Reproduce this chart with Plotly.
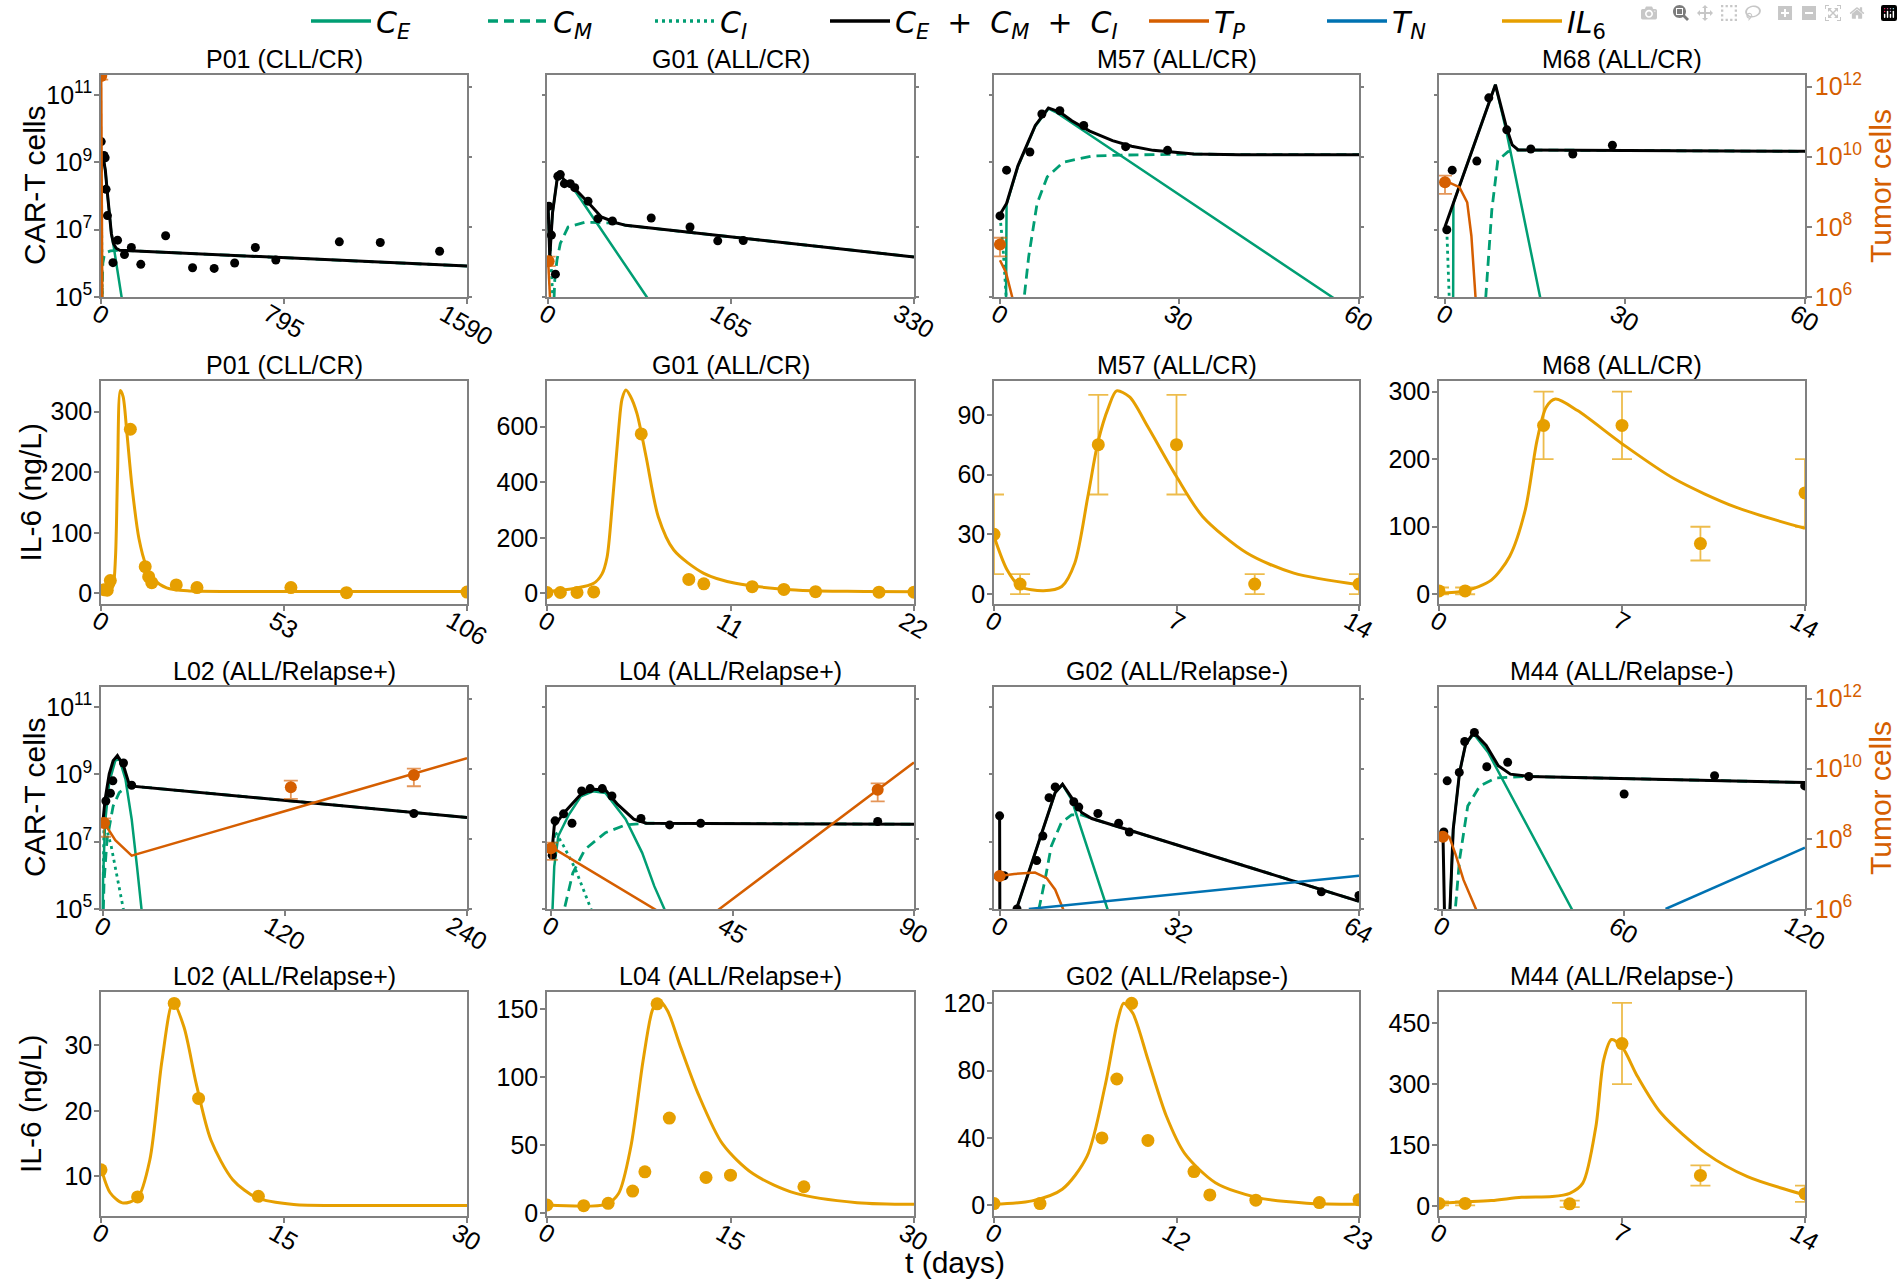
import plotly.graph_objects as go

W, H = 1903, 1279
FONT = "Liberation Sans"
LEGEND_FONT = "DejaVu Sans"
GREEN, BLACK, ORANGE, BLUE, GOLD = "#009E73", "#000000", "#D55E00", "#0072B2", "#E69F00"
SPINE = "#808080"

# ---------------- CAR-T / tumour panels (values as log10) ----------------
P01_DATA_T = [0, 12, 17, 21, 27, 51, 71, 101, 131, 172, 280, 397, 491, 580, 670, 759, 1035, 1213, 1471]
P01_DATA_LOG = [9.62, 9.21, 9.14, 8.2, 7.42, 6.02, 6.69, 6.26, 6.47, 5.97, 6.82, 5.87, 5.85, 6.01, 6.47, 6.1, 6.64, 6.62, 6.36]
P01_TOT_T = [0, 4, 10, 18, 27, 36, 44, 53, 65, 80, 1590]
P01_TOT_LOG = [8.7, 9.25, 9.1, 8.76, 8.07, 7.48, 6.89, 6.59, 6.45, 6.39, 5.92]
P01_CE_T = [0, 4, 10, 18, 27, 36, 44, 53, 89, 100]
P01_CE_LOG = [8.7, 9.25, 9.1, 8.76, 8.07, 7.48, 6.89, 6.55, 5.0, 4.5]
P01_CM_T = [2, 4, 7, 12, 20, 40, 80, 1590]
P01_CM_LOG = [4.5, 5.6, 6.0, 6.2, 6.32, 6.37, 6.39, 5.92]
P01_CI_T = [0, 2, 5]
P01_CI_LOG = [8.5, 6.5, 4.5]
P01_TP_T = [0, 2, 5]
P01_TP_LOG = [12.3, 9.0, 5.5]
P01_TUM_T, P01_TUM_LOG, P01_TUM_HI, P01_TUM_LO = [0], [12.3], [12.38], [12.2]

G01_DATA_T = [0.7, 3, 6.6, 8.8, 11, 14.7, 20, 24, 36, 45, 58, 93, 128, 153, 176]
G01_DATA_LOG = [7.7, 6.84, 5.68, 8.59, 8.64, 8.37, 8.37, 8.25, 7.85, 7.33, 7.26, 7.35, 7.08, 6.67, 6.68]
G01_TOT_T = [0, 1.5, 4, 9, 14, 24, 37, 48, 62, 70, 330]
G01_TOT_LOG = [7.7, 6.2, 7.5, 8.71, 8.5, 8.22, 7.78, 7.38, 7.2, 7.13, 6.19]
G01_CE_T = [0, 1.5, 4, 9, 14, 23, 89, 100]
G01_CE_LOG = [7.7, 6.2, 7.5, 8.71, 8.48, 8.22, 5.0, 4.45]
G01_CM_T = [4.8, 6, 8, 11, 18, 33, 62, 70, 330]
G01_CM_LOG = [4.5, 5.5, 6.1, 6.59, 7.08, 7.22, 7.2, 7.13, 6.19]
G01_CI_T = [0, 2, 4.5]
G01_CI_LOG = [7.7, 6.3, 4.8]
G01_TP_T = [0, 1, 2.5]
G01_TP_LOG = [7.05, 6.5, 5.5]
G01_TUM_T, G01_TUM_LOG, G01_TUM_HI, G01_TUM_LO = [0.5], [7.02], [7.15], [6.88]

M57_DATA_T = [0, 1.1, 5, 7, 10, 14, 21, 28]
M57_DATA_LOG = [7.41, 8.77, 9.31, 10.44, 10.54, 10.1, 9.47, 9.36]
M57_TOT_T = [0, 1.1, 3, 5.9, 8.1, 10, 12, 15, 18.8, 22, 25.6, 32.4, 40, 60]
M57_TOT_LOG = [7.45, 7.78, 8.9, 10.1, 10.62, 10.5, 10.24, 9.93, 9.65, 9.48, 9.36, 9.25, 9.23, 9.23]
M57_CE_T = [1.0, 1.1, 3, 5.9, 8.1, 9.3, 55.5, 60]
M57_CE_LOG = [4.5, 7.75, 8.88, 10.08, 10.6, 10.5, 5.0, 4.46]
M57_CM_T = [3.8, 4.8, 6.2, 7.9, 10.6, 15.4, 20.8, 32.4, 40, 60]
M57_CM_LOG = [4.6, 6.2, 7.78, 8.57, 9.01, 9.19, 9.22, 9.25, 9.23, 9.23]
M57_CI_T = [0, 0.5, 1.1]
M57_CI_LOG = [7.41, 6.5, 4.8]
M57_TP_T = [0, 1, 2.1, 2.6]
M57_TP_LOG = [7.05, 6.7, 5.96, 5.5]
M57_TUM_T, M57_TUM_LOG, M57_TUM_HI, M57_TUM_LO = [0], [7.5], [7.69], [7.16]

M68_DATA_T = [0.3, 1.2, 5.3, 7.3, 10.3, 14.3, 21.3, 27.9]
M68_DATA_LOG = [7.0, 8.77, 9.04, 10.92, 9.97, 9.4, 9.25, 9.51]
M68_TOT_T = [0, 8.4, 10.3, 11.2, 12.2, 60]
M68_TOT_LOG = [7.09, 11.31, 10.0, 9.52, 9.37, 9.33]
M68_CE_T = [1.35, 1.4, 8.4, 10.2, 15.85, 17]
M68_CE_LOG = [4.5, 7.79, 11.31, 9.95, 5.0, 4.0]
M68_CM_T = [6.6, 6.8, 7.8, 8.8, 10.5, 12.2, 60]
M68_CM_LOG = [4.5, 5.0, 7.58, 9.06, 9.32, 9.37, 9.33]
M68_CI_T = [0.3, 0.5, 0.8]
M68_CI_LOG = [7.0, 6.0, 4.5]
M68_TP_T = [0, 2.4, 3.7, 4.4, 5.1, 5.4]
M68_TP_LOG = [9.32, 9.13, 8.7, 7.74, 5.96, 5.0]
M68_TUM_T, M68_TUM_LOG, M68_TUM_HI, M68_TUM_LO = [0], [9.27], [9.46], [8.94]

L02_DATA_T = [2.2, 5.2, 6.8, 13.8, 19.2, 205]
L02_DATA_LOG = [8.21, 8.44, 8.81, 9.34, 8.68, 7.84]
L02_TOT_T = [0, 1.7, 4.4, 7, 9.8, 13.8, 17.9, 240]
L02_TOT_LOG = [7.47, 8.26, 9.01, 9.41, 9.56, 9.26, 8.66, 7.72]
L02_CE_T = [0.1, 0.35, 1.7, 4.4, 8.4, 11.1, 15.1, 19.2, 22.7, 25.9, 28]
L02_CE_LOG = [4.5, 5.88, 7.57, 8.76, 9.41, 9.46, 8.86, 7.67, 6.27, 5.0, 4.0]
L02_CM_T = [0.3, 1.0, 3, 7, 11, 15, 17.9, 240]
L02_CM_LOG = [4.5, 5.8, 7.07, 8.06, 8.46, 8.6, 8.66, 7.72]
L02_CI_T = [0.5, 1, 5.7, 9.8, 13.8, 15]
L02_CI_LOG = [6.0, 7.67, 6.87, 5.88, 5.0, 4.7]
L02_TP_T = [0, 8.4, 19.2, 240]
L02_TP_LOG = [8.53, 7.96, 7.52, 10.3]
L02_TUM_T, L02_TUM_LOG = [1, 124, 205], [8.45, 9.47, 9.82]
L02_TUM_HI, L02_TUM_LO = [8.58, 9.66, 10.0], [8.06, 9.14, 9.5]

L04_DATA_T = [0, 0.3, 1, 3.1, 5.2, 7.6, 9.7, 12.7, 15.1, 22.3, 29.4, 37.1, 81]
L04_DATA_LOG = [6.77, 6.6, 7.62, 7.83, 7.55, 8.51, 8.58, 8.58, 8.36, 7.69, 7.5, 7.55, 7.6]
L04_TOT_T = [0, 0.3, 0.8, 3.3, 7.4, 10.4, 13.5, 16.5, 20.5, 23.6, 90]
L04_TOT_LOG = [6.67, 6.8, 7.47, 7.87, 8.41, 8.56, 8.54, 8.11, 7.67, 7.55, 7.52]
L04_CE_T = [0.2, 0.8, 1.8, 4.4, 7.4, 10.4, 13.5, 18.5, 22.6, 25.6, 28.1, 30]
L04_CE_LOG = [4.5, 6.27, 7.17, 7.8, 8.35, 8.5, 8.45, 7.67, 6.67, 5.68, 5.0, 4.3]
L04_CM_T = [3.0, 3.3, 5.4, 8.4, 13.5, 18.5, 23.6, 90]
L04_CM_LOG = [4.6, 5.0, 6.07, 6.77, 7.27, 7.5, 7.55, 7.52]
L04_CI_T = [0.5, 1, 3, 6, 9.9, 11]
L04_CI_LOG = [6.5, 7.3, 6.9, 6.2, 5.0, 4.6]
L04_TP_T = [0, 34.6, 90]
L04_TP_LOG = [7.77, 5.38, 10.18]
L04_TUM_T, L04_TUM_LOG, L04_TUM_HI, L04_TUM_LO = [0, 81], [7.73, 9.4], [7.89, 9.58], [7.4, 9.07]

G02_DATA_T = [0, 0.8, 3.1, 6.6, 7.7, 8.8, 9.9, 13.2, 14.1, 17.5, 21.2, 23.1, 57.3, 64]
G02_DATA_LOG = [7.77, 5.99, 5.0, 6.44, 7.17, 8.31, 8.63, 8.19, 8.03, 7.84, 7.55, 7.29, 5.51, 5.4]
G02_TOT_T = [0, 0.05, 2.8, 5.5, 7.7, 9.9, 11.2, 12.8, 14.6, 16.4, 64]
G02_TOT_LOG = [7.77, 4.0, 4.9, 6.27, 7.37, 8.46, 8.71, 8.31, 7.87, 7.69, 5.23]
G02_CE_T = [2.8, 5.5, 7.7, 9.9, 11.2, 12.8, 19.2, 21]
G02_CE_LOG = [4.9, 6.27, 7.37, 8.46, 8.7, 8.26, 5.0, 4.1]
G02_CM_T = [6.8, 7.0, 8.1, 9.2, 11, 12.8, 14.6, 16.4, 64]
G02_CM_LOG = [4.5, 5.0, 5.88, 6.87, 7.57, 7.8, 7.8, 7.69, 5.23]
G02_TP_T = [0, 2.6, 6.3, 8.4, 9.9, 11.3, 12]
G02_TP_LOG = [6.94, 7.0, 7.04, 6.88, 6.55, 6.0, 5.6]
G02_TN_T = [5.2, 64]
G02_TN_LOG = [6.0, 6.95]
G02_TUM_T, G02_TUM_LOG = [0], [6.94]

M44_DATA_T = [0.6, 1.7, 5.7, 7.5, 10.7, 14.8, 21.7, 28.7, 60.2, 90.1, 119.9]
M44_DATA_LOG = [7.29, 8.81, 9.06, 9.98, 10.25, 9.23, 9.36, 8.94, 8.42, 8.96, 8.66]
M44_TOT_T = [0.3, 0.9, 2.4, 3.7, 5.8, 7.8, 10.5, 14.6, 18.6, 22.6, 28.7, 120]
M44_TOT_LOG = [7.3, 4.5, 4.5, 7.37, 9.06, 9.9, 10.25, 9.86, 9.26, 9.01, 8.94, 8.76]
M44_CE_T = [2.4, 3.7, 5.8, 7.8, 10.5, 15.2, 42.9, 46]
M44_CE_LOG = [4.5, 7.37, 9.06, 9.9, 10.2, 9.66, 5.0, 4.5]
M44_CM_T = [4.2, 4.4, 5.8, 8.5, 12.5, 17.9, 28.7, 120]
M44_CM_LOG = [4.6, 5.0, 6.47, 8.06, 8.66, 8.9, 8.94, 8.76]
M44_TP_T = [0.3, 2.4, 4.4, 7.1, 11.2, 12]
M44_TP_LOG = [8.1, 8.06, 7.58, 6.83, 6.0, 5.8]
M44_TN_T = [73.9, 120]
M44_TN_LOG = [6.0, 7.75]
M44_TUM_T, M44_TUM_LOG = [0.3], [8.06]

# ---------------- IL-6 panels (ng/L) ----------------
P01_IL6_T = [0.9, 1.8, 2.7, 8.5, 12.8, 13.8, 14.7, 21.8, 27.8, 55, 71.1, 106]
P01_IL6_V = [6, 5, 21, 271, 44, 27.5, 17.6, 13.8, 9.4, 9.4, 1, 2]
P01_FIT_T = [0, 2.5, 3.5, 4.2, 4.8, 5.6, 6.4, 7.5, 9, 11, 13, 15.5, 19, 25, 40, 106]
P01_FIT_V = [3, 4, 12, 60, 200, 335, 325, 265, 175, 90, 47, 22, 9, 4, 3, 3]

G01_IL6_T = [0, 0.8, 1.8, 2.8, 5.65, 8.5, 9.4, 12.3, 14.2, 16.1, 19.9, 22]
G01_IL6_V = [3, 3, 3, 5, 574, 50, 34, 24, 14, 6, 4, 4]
G01_FIT_T = [0, 1.7, 2.8, 3.3, 3.6, 3.92, 4.29, 4.5, 4.73, 5.0, 5.39, 5.94, 6.67, 7.6, 9.4, 11.3, 14.9, 18, 22]
G01_FIT_V = [6, 18, 36, 70, 130, 324, 588, 700, 732, 710, 648, 492, 276, 156, 72, 36, 12, 7, 6]

M57_IL6_T = [0, 1, 4, 7, 10, 14]
M57_IL6_V = [30, 5, 75, 75, 5, 5]
M57_IL6_E = [20, 5, 25, 25, 5, 5]
M57_FIT_T = [0, 0.5, 1, 1.9, 2.6, 3.1, 3.6, 4.0, 4.4, 4.7, 5.2, 5.9, 7, 8, 9.7, 11.5, 14]
M57_FIT_V = [29, 12.2, 3.8, 1.7, 3.8, 15.6, 49, 77, 94, 102, 99, 84, 59, 39, 20.6, 10.5, 4.7]

M68_IL6_T = [0, 1, 4, 7, 10, 14]
M68_IL6_V = [5, 5, 250, 250, 75, 150]
M68_IL6_E = [5, 5, 50, 50, 25, 50]
M68_FIT_T = [0, 1, 2, 2.7, 3.3, 3.75, 4.1, 4.45, 5.3, 7, 9, 11.35, 14]
M68_FIT_V = [1.7, 5, 21, 56, 125, 228, 277, 289, 272, 223, 171, 129, 97.5]

L02_IL6_T = [0, 3, 6, 8, 12.9]
L02_IL6_V = [11, 6.86, 36.4, 21.9, 6.96]
L02_FIT_T = [0, 0.75, 1.75, 3, 4, 5, 5.9, 6.8, 7.8, 9, 10.8, 12.8, 15.8, 20, 30]
L02_FIT_V = [11.3, 7.5, 5.95, 6.7, 12.5, 27.7, 36.6, 32.8, 24.2, 15.6, 9.5, 6.7, 5.7, 5.55, 5.55]

L04_IL6_T = [0, 3, 5, 7, 8, 9, 10, 13, 15, 21]
L04_IL6_V = [6.1, 5.6, 7.3, 16.3, 30.5, 154, 70, 26.3, 28, 19.5]
L04_FIT_T = [0, 4.85, 5.85, 6.85, 7.85, 8.6, 9.1, 9.85, 10.85, 12.35, 14.35, 16.85, 20.35, 25.35, 30]
L04_FIT_V = [6.1, 6.8, 14.6, 48.8, 112, 149, 157, 149, 124, 88, 51, 29, 14.6, 7.8, 6.6]

G02_IL6_T = [0, 2.9, 6.8, 7.74, 8.67, 9.7, 12.6, 13.6, 16.5, 20.5, 23]
G02_IL6_V = [1, 1, 40, 75, 120, 38.5, 20, 6.1, 3, 1.6, 3.2]
G02_FIT_T = [0, 2.4, 4.3, 5.86, 7.0, 7.8, 8.17, 8.75, 9.7, 10.86, 12, 13.95, 16.6, 19.7, 23]
G02_FIT_V = [0.6, 2.6, 9.5, 29, 71, 110, 120, 114, 86.6, 53, 31, 13.4, 4.5, 1.2, 0.6]

M44_IL6_T = [0, 1, 5, 7, 10, 14]
M44_IL6_V = [6, 6, 5, 400, 75, 30]
M44_IL6_E = [5, 5, 8, 100, 25, 20]
M44_FIT_T = [0, 2, 3.16, 4.33, 5, 5.5, 6, 6.3, 6.6, 7, 7.6, 8.5, 10.2, 11.8, 14]
M44_FIT_V = [6.6, 13, 21, 23, 31, 56, 195, 360, 410, 392, 318, 228, 130, 72, 27]

# ---------------- axis settings ----------------
DETECTION_LOG = [5.0, 5.38]
CAR_RANGE_LOG = [5.0, 11.6]
TUM_RANGE_LOG = [6.0, 12.33]
CAR_TICKS = [1e5, 1e7, 1e9, 1e11]
CAR_TICKTEXT = ["10<sup>5</sup>", "10<sup>7</sup>", "10<sup>9</sup>", "10<sup>11</sup>"]
TUM_TICKS = [1e6, 1e8, 1e10, 1e12]
TUM_TICKTEXT = ["10<sup>6</sup>", "10<sup>8</sup>", "10<sup>10</sup>", "10<sup>12</sup>"]

COL_PX = [(101, 467), (547, 914), (994, 1359), (1439, 1805)]
ROW_PX = [(75, 297), (381, 604), (687, 909), (992, 1216)]


def p10(a):
    return [10.0 ** v for v in a]


CAR_PANELS = [
    dict(title="P01 (CLL/CR)", row=0, col=0, xmax=1590, xt=[0, 795, 1590],
         data=(P01_DATA_T, P01_DATA_LOG), tot=(P01_TOT_T, P01_TOT_LOG), ce=(P01_CE_T, P01_CE_LOG),
         cm=(P01_CM_T, P01_CM_LOG), ci=(P01_CI_T, P01_CI_LOG), tp=(P01_TP_T, P01_TP_LOG), tn=None,
         tum=(P01_TUM_T, P01_TUM_LOG, P01_TUM_HI, P01_TUM_LO)),
    dict(title="G01 (ALL/CR)", row=0, col=1, xmax=330, xt=[0, 165, 330],
         data=(G01_DATA_T, G01_DATA_LOG), tot=(G01_TOT_T, G01_TOT_LOG), ce=(G01_CE_T, G01_CE_LOG),
         cm=(G01_CM_T, G01_CM_LOG), ci=(G01_CI_T, G01_CI_LOG), tp=(G01_TP_T, G01_TP_LOG), tn=None,
         tum=(G01_TUM_T, G01_TUM_LOG, G01_TUM_HI, G01_TUM_LO)),
    dict(title="M57 (ALL/CR)", row=0, col=2, xmax=60, xt=[0, 30, 60],
         data=(M57_DATA_T, M57_DATA_LOG), tot=(M57_TOT_T, M57_TOT_LOG), ce=(M57_CE_T, M57_CE_LOG),
         cm=(M57_CM_T, M57_CM_LOG), ci=(M57_CI_T, M57_CI_LOG), tp=(M57_TP_T, M57_TP_LOG), tn=None,
         tum=(M57_TUM_T, M57_TUM_LOG, M57_TUM_HI, M57_TUM_LO)),
    dict(title="M68 (ALL/CR)", row=0, col=3, xmax=60, xt=[0, 30, 60],
         data=(M68_DATA_T, M68_DATA_LOG), tot=(M68_TOT_T, M68_TOT_LOG), ce=(M68_CE_T, M68_CE_LOG),
         cm=(M68_CM_T, M68_CM_LOG), ci=(M68_CI_T, M68_CI_LOG), tp=(M68_TP_T, M68_TP_LOG), tn=None,
         tum=(M68_TUM_T, M68_TUM_LOG, M68_TUM_HI, M68_TUM_LO)),
    dict(title="L02 (ALL/Relapse+)", row=2, col=0, xmax=240, xt=[0, 120, 240],
         data=(L02_DATA_T, L02_DATA_LOG), tot=(L02_TOT_T, L02_TOT_LOG), ce=(L02_CE_T, L02_CE_LOG),
         cm=(L02_CM_T, L02_CM_LOG), ci=(L02_CI_T, L02_CI_LOG), tp=(L02_TP_T, L02_TP_LOG), tn=None,
         tum=(L02_TUM_T, L02_TUM_LOG, L02_TUM_HI, L02_TUM_LO)),
    dict(title="L04 (ALL/Relapse+)", row=2, col=1, xmax=90, xt=[0, 45, 90],
         data=(L04_DATA_T, L04_DATA_LOG), tot=(L04_TOT_T, L04_TOT_LOG), ce=(L04_CE_T, L04_CE_LOG),
         cm=(L04_CM_T, L04_CM_LOG), ci=(L04_CI_T, L04_CI_LOG), tp=(L04_TP_T, L04_TP_LOG), tn=None,
         tum=(L04_TUM_T, L04_TUM_LOG, L04_TUM_HI, L04_TUM_LO)),
    dict(title="G02 (ALL/Relapse-)", row=2, col=2, xmax=64, xt=[0, 32, 64],
         data=(G02_DATA_T, G02_DATA_LOG), tot=(G02_TOT_T, G02_TOT_LOG), ce=(G02_CE_T, G02_CE_LOG),
         cm=(G02_CM_T, G02_CM_LOG), ci=None, tp=(G02_TP_T, G02_TP_LOG), tn=(G02_TN_T, G02_TN_LOG),
         tum=(G02_TUM_T, G02_TUM_LOG, None, None)),
    dict(title="M44 (ALL/Relapse-)", row=2, col=3, xmax=120, xt=[0, 60, 120],
         data=(M44_DATA_T, M44_DATA_LOG), tot=(M44_TOT_T, M44_TOT_LOG), ce=(M44_CE_T, M44_CE_LOG),
         cm=(M44_CM_T, M44_CM_LOG), ci=None, tp=(M44_TP_T, M44_TP_LOG), tn=(M44_TN_T, M44_TN_LOG),
         tum=(M44_TUM_T, M44_TUM_LOG, None, None)),
]

IL6_PANELS = [
    dict(title="P01 (CLL/CR)", row=1, col=0, xmax=106, xt=[0, 53, 106], xtt=None, yr=[-17.7, 350.7], yt=[0, 100, 200, 300],
         data=(P01_IL6_T, P01_IL6_V, None), fit=(P01_FIT_T, P01_FIT_V)),
    dict(title="G01 (ALL/CR)", row=1, col=1, xmax=22, xt=[0, 11, 22], xtt=None, yr=[-38.5, 764.6], yt=[0, 200, 400, 600],
         data=(G01_IL6_T, G01_IL6_V, None), fit=(G01_FIT_T, G01_FIT_V)),
    dict(title="M57 (ALL/CR)", row=1, col=2, xmax=14, xt=[0, 7, 14], xtt=None, yr=[-5, 107], yt=[0, 30, 60, 90],
         data=(M57_IL6_T, M57_IL6_V, M57_IL6_E), fit=(M57_FIT_T, M57_FIT_V)),
    dict(title="M68 (ALL/CR)", row=1, col=3, xmax=14, xt=[0, 7, 14], xtt=None, yr=[-14.4, 315.8], yt=[0, 100, 200, 300],
         data=(M68_IL6_T, M68_IL6_V, M68_IL6_E), fit=(M68_FIT_T, M68_FIT_V)),
    dict(title="L02 (ALL/Relapse+)", row=3, col=0, xmax=30, xt=[0, 15, 30], xtt=None, yr=[3.95, 38.15], yt=[10, 20, 30],
         data=(L02_IL6_T, L02_IL6_V, None), fit=(L02_FIT_T, L02_FIT_V)),
    dict(title="L04 (ALL/Relapse+)", row=3, col=1, xmax=30, xt=[0, 15, 30], xtt=None, yr=[-2, 162.7], yt=[0, 50, 100, 150],
         data=(L04_IL6_T, L04_IL6_V, None), fit=(L04_FIT_T, L04_FIT_V)),
    dict(title="G02 (ALL/Relapse-)", row=3, col=2, xmax=23, xt=[0, 11.5, 23], xtt=["0", "12", "23"], yr=[-6.4, 126.7], yt=[0, 40, 80, 120],
         data=(G02_IL6_T, G02_IL6_V, None), fit=(G02_FIT_T, G02_FIT_V)),
    dict(title="M44 (ALL/Relapse-)", row=3, col=3, xmax=14, xt=[0, 7, 14], xtt=None, yr=[-25, 527], yt=[0, 150, 300, 450],
         data=(M44_IL6_T, M44_IL6_V, M44_IL6_E), fit=(M44_FIT_T, M44_FIT_V)),
]

# legend entries: label, colour, dash, left pixel of the legend box
SP = "\u2002\u200a"
LEGEND = [
    ("<i>C<sub>E</sub></i>", GREEN, "solid", 306),
    ("<i>C<sub>M</sub></i>", GREEN, "10px,6px", 483),
    ("<i>C<sub>I</sub></i>", GREEN, "3px,4px", 650),
    (f"<i>C<sub>E</sub></i>{SP}+{SP}<i>C<sub>M</sub></i>{SP}+{SP}<i>C<sub>I</sub></i>", BLACK, "solid", 825),
    ("<i>T<sub>P</sub></i>", ORANGE, "solid", 1144),
    ("<i>T<sub>N</sub></i>", BLUE, "solid", 1322),
    ("<i>IL</i><sub>6</sub>", GOLD, "solid", 1497),
]


def sid(n):
    return "" if n == 1 else str(n)


def xdom(c):
    return [COL_PX[c][0] / W, COL_PX[c][1] / W]


def ydom(r):
    return [1 - ROW_PX[r][1] / H, 1 - ROW_PX[r][0] / H]


TICK_SIZE = 25
tickfont = dict(family=FONT, size=TICK_SIZE, color="black")
base_axis = dict(showgrid=False, zeroline=False, showline=True, linecolor=SPINE, linewidth=1.5,
                 mirror=True, ticks="outside", tickcolor=SPINE, tickwidth=1.5, tickfont=tickfont,
                 automargin=False)

fig = go.Figure()
layout = {}
annotations = []
shapes = []


def add_line(x, y, color, width, dash, xa, ya):
    fig.add_trace(go.Scatter(x=x, y=y, mode="lines", line=dict(color=color, width=width, dash=dash),
                             xaxis=xa, yaxis=ya, showlegend=False, hoverinfo="skip"))


def xaxis_conf(c, ya, rng, ticks):
    d = dict(base_axis)
    d.update(domain=xdom(c), anchor=ya, range=rng, tickvals=ticks, showticklabels=False, ticklen=5)
    return d


def add_xticklabels(xa, ya, ticks, labels):
    # rotated tick labels centred on their tick (rotation about the label centre)
    for t, lab in zip(ticks, labels):
        w = len(lab) * 0.556 * TICK_SIZE
        dy = 6 + (0.72 * TICK_SIZE * 0.866 + w * 0.5) / 2
        annotations.append(dict(text=lab, x=t, xref=xa, y=0, yref=f"{ya} domain", xanchor="center",
                                yanchor="middle", yshift=-dy, textangle=30, showarrow=False, font=tickfont))


def add_title(r, c, text):
    annotations.append(dict(text=text, x=(COL_PX[c][0] + COL_PX[c][1]) / 2 / W, y=1 - ROW_PX[r][0] / H,
                            xref="paper", yref="paper", xanchor="center", yanchor="bottom", yshift=0,
                            showarrow=False, font=dict(family=FONT, size=25, color="black")))


def add_ytitle(r, text, xpx, color):
    annotations.append(dict(text=text, x=xpx / W, y=1 - (ROW_PX[r][0] + ROW_PX[r][1]) / 2 / H,
                            xref="paper", yref="paper", xanchor="center", yanchor="middle",
                            textangle=-90, showarrow=False, font=dict(family=FONT, size=30, color=color)))


sec_id = 17
for p in CAR_PANELS:
    r, c = p["row"], p["col"]
    n = r * 4 + c + 1
    xa, ya, ys = f"x{sid(n)}", f"y{sid(n)}", f"y{sec_id}"
    layout[f"xaxis{sid(n)}"] = xaxis_conf(c, ya, [-1, p["xmax"]], p["xt"])
    add_xticklabels(xa, ya, p["xt"], [str(t) for t in p["xt"]])
    yax = dict(base_axis)
    yax.update(domain=ydom(r), anchor=xa, type="log", range=CAR_RANGE_LOG, tickvals=CAR_TICKS,
               ticktext=CAR_TICKTEXT, showticklabels=(c == 0), ticklen=5 if c == 0 else 3, mirror=False,
               ticklabelstandoff=-3)
    layout[f"yaxis{sid(n)}"] = yax
    if c == 0:
        add_ytitle(r, "CAR-T cells", 34, "black")
    sax = dict(showgrid=False, zeroline=False, showline=True, linecolor=SPINE, linewidth=1.5,
               overlaying=ya, anchor=xa, side="right", type="log", range=TUM_RANGE_LOG,
               tickvals=TUM_TICKS, ticktext=TUM_TICKTEXT, ticks="outside", tickcolor=SPINE,
               ticklen=5 if c == 3 else 3, tickwidth=1.5, showticklabels=(c == 3), automargin=False,
               ticklabelstandoff=-2, tickfont=dict(family=FONT, size=TICK_SIZE, color=ORANGE))
    layout[f"yaxis{sec_id}"] = sax
    if c == 3:
        add_ytitle(r, "Tumor cells", 1880, ORANGE)
    shapes.append(dict(type="rect", xref=f"{xa} domain", x0=0, x1=1, yref=ya,
                       y0=DETECTION_LOG[0], y1=DETECTION_LOG[1], fillcolor="#efefef",
                       line=dict(width=0), layer="below"))
    add_title(r, c, p["title"])

    add_line(p["ce"][0], p10(p["ce"][1]), GREEN, 2.5, "solid", xa, ya)
    add_line(p["cm"][0], p10(p["cm"][1]), GREEN, 2.8, "10px,6px", xa, ya)
    if p["ci"]:
        add_line(p["ci"][0], p10(p["ci"][1]), GREEN, 2.8, "3px,4px", xa, ya)
    add_line(p["tot"][0], p10(p["tot"][1]), BLACK, 3, "solid", xa, ya)
    fig.add_trace(go.Scatter(x=p["data"][0], y=p10(p["data"][1]), mode="markers",
                             marker=dict(color=BLACK, size=9), xaxis=xa, yaxis=ya, showlegend=False))
    add_line(p["tp"][0], p10(p["tp"][1]), ORANGE, 2.5, "solid", xa, ys)
    if p["tn"]:
        add_line(p["tn"][0], p10(p["tn"][1]), BLUE, 2.5, "solid", xa, ys)
    tt, tv, th, tl = p["tum"]
    err = None
    if th is not None:
        vals = p10(tv)
        err = dict(type="data", symmetric=False,
                   array=[h - v for h, v in zip(p10(th), vals)],
                   arrayminus=[v - l for l, v in zip(p10(tl), vals)],
                   color="rgba(213,94,0,0.65)", thickness=1.8, width=7)
    fig.add_trace(go.Scatter(x=tt, y=p10(tv), mode="markers", marker=dict(color=ORANGE, size=12),
                             error_y=err, xaxis=xa, yaxis=ys, showlegend=False))
    sec_id += 1

for p in IL6_PANELS:
    r, c = p["row"], p["col"]
    n = r * 4 + c + 1
    xa, ya = f"x{sid(n)}", f"y{sid(n)}"
    layout[f"xaxis{sid(n)}"] = xaxis_conf(c, ya, [0, p["xmax"]], p["xt"])
    add_xticklabels(xa, ya, p["xt"], p["xtt"] if p["xtt"] else [str(t) for t in p["xt"]])
    yax = dict(base_axis)
    yax.update(domain=ydom(r), anchor=xa, range=p["yr"], tickvals=p["yt"], ticklen=5, ticklabelstandoff=-3)
    layout[f"yaxis{sid(n)}"] = yax
    if c == 0:
        add_ytitle(r, "IL-6 (ng/L)", 30, "black")
    add_title(r, c, p["title"])
    fig.add_trace(go.Scatter(x=p["fit"][0], y=p["fit"][1], mode="lines",
                             line=dict(color=GOLD, width=3, shape="spline", smoothing=0.8),
                             xaxis=xa, yaxis=ya, showlegend=False, hoverinfo="skip"))
    dt, dv, de = p["data"]
    err = None
    if de is not None:
        err = dict(type="data", array=de, color="rgba(230,159,0,0.7)", thickness=1.8, width=10)
    fig.add_trace(go.Scatter(x=dt, y=dv, mode="markers", marker=dict(color=GOLD, size=13), error_y=err,
                             xaxis=xa, yaxis=ya, showlegend=False))

# legend: one small legend per entry so the spacing follows the reference
for i, (name, col, dash, left) in enumerate(LEGEND):
    lid = "legend" if i == 0 else f"legend{i + 1}"
    fig.add_trace(go.Scatter(x=[None], y=[None], mode="lines", name=name,
                             line=dict(color=col, width=3.5, dash=dash),
                             xaxis="x", yaxis="y", showlegend=True, legend=lid))
    layout[lid] = dict(x=left / W, xanchor="left", y=1 - 21 / H, yanchor="middle",
                       orientation="h", itemwidth=60, bgcolor="rgba(0,0,0,0)", borderwidth=0,
                       font=dict(family=LEGEND_FONT, size=30, color="black"))

annotations.append(dict(text="t (days)", x=955 / W, y=1 - 1262 / H, xref="paper", yref="paper",
                        xanchor="center", yanchor="middle", showarrow=False,
                        font=dict(family=FONT, size=30, color="black")))

fig.update_layout(**layout)
fig.update_layout(
    width=W, height=H, margin=dict(l=0, r=0, t=0, b=0, autoexpand=False),
    paper_bgcolor="white", plot_bgcolor="white",
    font=dict(family=FONT, color="black"),
    annotations=annotations, shapes=shapes,
)

fig.write_html("out.html", post_script="document.body.style.margin='0px';")
